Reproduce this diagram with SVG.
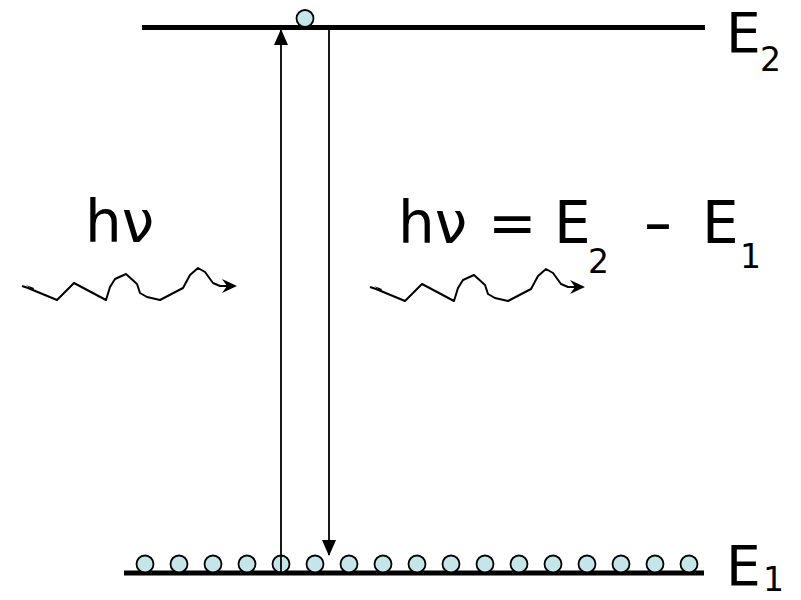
<svg xmlns="http://www.w3.org/2000/svg" xmlns:xlink="http://www.w3.org/1999/xlink" width="801" height="600" viewBox="0 0 801 600">
<style>
.level{stroke:#000;stroke-width:5;fill:none}
.atom{fill:#c4e6e8;stroke:#000;stroke-width:1.8}
.trans{stroke:#000;stroke-width:1.8;fill:none}
.wave{stroke:#000;stroke-width:2;fill:none;stroke-linejoin:round}
.lbl{font-family:"DejaVu Sans","Liberation Sans",sans-serif;font-size:58px;fill:#000}
.corner{font-family:"DejaVu Sans","Liberation Sans",sans-serif;font-size:55px;fill:#000}
.sub{font-family:"DejaVu Sans","Liberation Sans",sans-serif;font-size:33px;fill:#000}
</style>
<defs>
<marker id="tri" viewBox="0 0 16 14" refX="15" refY="7" markerWidth="16" markerHeight="14" markerUnits="userSpaceOnUse" orient="auto">
<path d="M0,0 L16,7 L0,14 Z" fill="#000"/>
</marker>
<g id="photon">
<path class="wave" d="M0,0 L6,2 L35,14 L52,-3 L84,14 L88,1 L93,-7 L104,-12 L115,-2 L118,7 L125,11 L138,14 L161,2 L168,-11 L176,-18 L183,-14 L191,-3 L198,0 L212,0"/>
<path d="M4,-1 L12,2 L11,4 Z" fill="#000"/>
<path d="M215,0 L200,-7 L205,0 L200,7 Z" fill="#000"/>
</g>
</defs>
<g id="level-E2">
<line class="level" x1="142" y1="27.5" x2="705" y2="27.5"/>
<circle class="atom" cx="305" cy="18.5" r="8.5"/>
<text class="corner" x="726" y="52">E</text>
<text class="sub" x="760" y="71">2</text>
</g>
<g id="level-E1">
<line class="level" x1="124" y1="573" x2="704" y2="573"/>
<g id="atoms">
<circle class="atom" cx="145" cy="564" r="8.5"/>
<circle class="atom" cx="179" cy="564" r="8.5"/>
<circle class="atom" cx="213" cy="564" r="8.5"/>
<circle class="atom" cx="247" cy="564" r="8.5"/>
<circle class="atom" cx="281" cy="564" r="8.5"/>
<circle class="atom" cx="315" cy="564" r="8.5"/>
<circle class="atom" cx="349" cy="564" r="8.5"/>
<circle class="atom" cx="383" cy="564" r="8.5"/>
<circle class="atom" cx="417" cy="564" r="8.5"/>
<circle class="atom" cx="451" cy="564" r="8.5"/>
<circle class="atom" cx="485" cy="564" r="8.5"/>
<circle class="atom" cx="519" cy="564" r="8.5"/>
<circle class="atom" cx="553" cy="564" r="8.5"/>
<circle class="atom" cx="587" cy="564" r="8.5"/>
<circle class="atom" cx="621" cy="564" r="8.5"/>
<circle class="atom" cx="655" cy="564" r="8.5"/>
<circle class="atom" cx="689" cy="564" r="8.5"/>
</g>
<text class="corner" x="726" y="585">E</text>
<text class="sub" x="763" y="591">1</text>
</g>
<g id="connectors">
<line class="trans" x1="281" y1="573" x2="281" y2="30" marker-end="url(#tri)"/>
<line class="trans" x1="329" y1="30" x2="329" y2="555" marker-end="url(#tri)"/>
</g>
<g id="photon-in">
<use xlink:href="#photon" transform="translate(22,286)"/>
<text class="lbl" x="85" y="242">hν</text>
</g>
<g id="photon-out">
<use xlink:href="#photon" transform="translate(370,287)"/>
<text class="lbl" x="398" y="243">hν</text>
<text class="lbl" x="488" y="243">=</text>
<text class="lbl" x="554" y="243">E</text>
<text class="sub" x="588" y="273">2</text>
<text class="lbl" x="643" y="243" textLength="30" lengthAdjust="spacingAndGlyphs">-</text>
<text class="lbl" x="702" y="243">E</text>
<text class="sub" x="740" y="268">1</text>
</g>
</svg>
